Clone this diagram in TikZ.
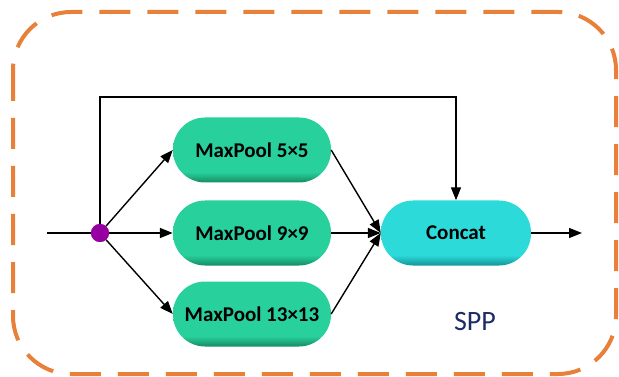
\documentclass[tikz,border=0pt]{standalone}
\usepackage{fontspec}
\setmainfont{Carlito}
\usetikzlibrary{arrows.meta}
\definecolor{pgreen}{RGB}{40,208,155}
\definecolor{pgreendk}{RGB}{20,140,100}
\definecolor{pcyan}{RGB}{44,218,218}
\definecolor{pcyandk}{RGB}{18,150,150}
\definecolor{borange}{RGB}{232,128,58}
\definecolor{sppblue}{RGB}{28,44,100}
\definecolor{dotpurple}{RGB}{150,0,160}
\pgfdeclareverticalshading{greensh}{100bp}{color(0bp)=(pgreendk); color(25bp)=(pgreendk); color(33bp)=(pgreen); color(100bp)=(pgreen)}
\pgfdeclareverticalshading{cyansh}{100bp}{color(0bp)=(pcyandk); color(25bp)=(pcyandk); color(33bp)=(pcyan); color(100bp)=(pcyan)}
\tikzset{
  poolbox/.style={rectangle, rounded corners=32pt, minimum width=158pt, minimum height=65pt,
    shading=greensh, font=\fontsize{21}{24}\selectfont\bfseries, text=black, inner sep=0pt},
  catbox/.style={poolbox, minimum width=150pt, shading=cyansh},
  conn/.style={line width=1.4pt, draw=black},
  arr/.style={conn, -{Triangle[length=13pt,width=10pt]}},
}
\begin{document}
\begin{tikzpicture}[x=1pt,y=-1pt]
\useasboundingbox (0,0) rectangle (619,377);
\draw[borange, line width=4pt, dash pattern=on 31pt off 17pt, rounded corners=58pt]
  (13,12) rectangle (616,374);
\node[poolbox] (p1) at (252,150) {MaxPool 5×5};
\node[poolbox] (p2) at (252,233) {MaxPool 9×9};
\node[poolbox] (p3) at (252,314) {MaxPool 13×13};
\node[catbox] (cc) at (456,233) {Concat};
\coordinate (in) at (47,233);
\coordinate (out) at (582,233);
\coordinate (top) at (456,97);
\node[circle, fill=dotpurple, minimum size=18pt, inner sep=0pt] (dot) at (100,233) {};
\draw[conn] (in) -- (dot);
\draw[arr] (dot) -- (p1.west);
\draw[arr] (dot) -- (p2.west);
\draw[arr] (dot) -- (p3.west);
\draw[arr] (dot.center) |- (top) -- (cc.north);
\draw[arr] (p1.east) -- (cc.west);
\draw[arr] (p2.east) -- (cc.west);
\draw[arr] (p3.east) -- (cc.west);
\draw[arr] (cc.east) -- (out);
\node[circle, fill=dotpurple, minimum size=18pt, inner sep=0pt] at (dot) {};
\node[text=sppblue, font=\fontsize{28}{30}\selectfont] (spp) at (475,322) {SPP};
\end{tikzpicture}
\end{document}
